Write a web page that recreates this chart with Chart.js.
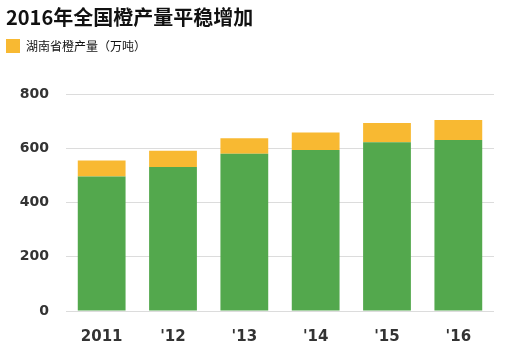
<!DOCTYPE html>
<html><head><meta charset="utf-8">
<script src="https://cdn.jsdelivr.net/npm/chart.js@4"></script>
<style>html,body{margin:0;padding:0;background:#fff}#wrap{width:505px;height:358px}</style>
</head><body><div id="wrap"><canvas id="c" width="505" height="358"></canvas></div>
<script>
const categories = ["2011", "'12", "'13", "'14", "'15", "'16"];
const otherValues = [496, 531, 580, 594, 622, 630];
const hunanValues = [59, 60, 57, 64, 71, 74];
const yTicks = [0, 200, 400, 600, 800];
const titleText = "2016年全国橙产量平稳增加";
const hunanLabel = "湖南省橙产量（万吨）";

const legendGap = {
  id: 'legendGap',
  beforeInit(chart) {
    const lg = chart.legend;
    if (lg) {
      const orig = lg.fit;
      lg.fit = function () { orig.call(this); this.height += 31; };
    }
  }
};

new Chart(document.getElementById('c'), {
  type: 'bar',
  data: {
    labels: categories,
    datasets: [
      { label: '其他', data: otherValues, backgroundColor: '#53a84d', barPercentage: 0.67, categoryPercentage: 1 },
      { label: hunanLabel, data: hunanValues, backgroundColor: '#f8b932', barPercentage: 0.67, categoryPercentage: 1 }
    ]
  },
  options: {
    responsive: false,
    animation: false,
    layout: { padding: { left: 6, right: 11, top: 0, bottom: 3 } },
    plugins: {
      title: {
        display: true, text: titleText, align: 'start', color: '#111',
        font: { family: "'Noto Sans CJK SC'", size: 20, weight: 'bold' },
        padding: { top: 5, bottom: 10 }
      },
      legend: {
        display: true, align: 'start',
        labels: {
          filter: (item) => item.datasetIndex === 1,
          boxWidth: 14, boxHeight: 14, padding: 0, color: '#111',
          font: { family: "'Noto Sans CJK SC'", size: 12 }
        }
      },
      tooltip: { enabled: false }
    },
    scales: {
      x: {
        stacked: true,
        grid: { display: false },
        border: { display: false },
        ticks: { color: '#333', padding: 9, font: { family: "'DejaVu Sans'", size: 15, weight: 'bold' } }
      },
      y: {
        stacked: true, min: 0, max: 800,
        afterFit(scale) { scale.width = 60; },
        afterBuildTicks(scale) { scale.ticks = yTicks.map(v => ({ value: v })); },
        grid: { color: '#dcdcdc', drawTicks: false, lineWidth: 1 },
        border: { display: false },
        ticks: { color: '#333', padding: 17, font: { family: "'DejaVu Sans'", size: 14, weight: 'bold' } }
      }
    }
  },
  plugins: [legendGap]
});
</script></body></html>
